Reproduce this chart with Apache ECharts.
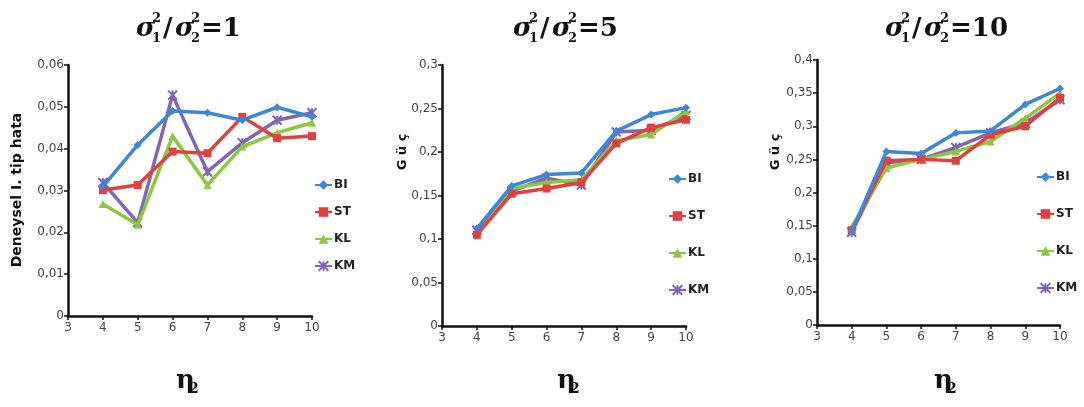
<!DOCTYPE html>
<html><head><meta charset="utf-8">
<script src="https://cdn.jsdelivr.net/npm/echarts@6/dist/echarts.min.js"></script>
<style>html,body{margin:0;padding:0;background:#fff}#c{width:1084px;height:407px}</style>
</head><body><div id="c"></div>
<script>
var n2 = [4, 5, 6, 7, 8, 9, 10];
var methods = ['BI', 'ST', 'KL', 'KM'];
// ratio = 1 : empirical type I error
var r1_BI = [0.0309, 0.0409, 0.0490, 0.0486, 0.0468, 0.0499, 0.0476];
var r1_ST = [0.0301, 0.0313, 0.0393, 0.0389, 0.0476, 0.0425, 0.0430];
var r1_KL = [0.0268, 0.0218, 0.0430, 0.0313, 0.0405, 0.0438, 0.0462];
var r1_KM = [0.0319, 0.0223, 0.0528, 0.0345, 0.0414, 0.0468, 0.0486];
// ratio = 5 : power
var r5_BI = [0.112, 0.161, 0.174, 0.176, 0.224, 0.243, 0.251];
var r5_ST = [0.105, 0.152, 0.158, 0.165, 0.210, 0.228, 0.237];
var r5_KL = [0.104, 0.158, 0.165, 0.168, 0.213, 0.220, 0.247];
var r5_KM = [0.110, 0.155, 0.170, 0.162, 0.223, 0.225, 0.242];
// ratio = 10 : power
var r10_BI = [0.141, 0.262, 0.259, 0.290, 0.293, 0.333, 0.357];
var r10_ST = [0.143, 0.248, 0.250, 0.248, 0.287, 0.300, 0.343];
var r10_KL = [0.148, 0.237, 0.250, 0.262, 0.277, 0.312, 0.350];
var r10_KM = [0.140, 0.245, 0.250, 0.268, 0.290, 0.305, 0.340];
var yTitles = ['Deneysel I. tip hata', 'G ü ç', 'G ü ç'];
var ratios = ['1', '5', '10'];

var colors = {BI:'#3d86d8', ST:'#e0413f', KL:'#8dc63f', KM:'#8266b3'};
var symbols = {BI:'diamond', ST:'rect', KL:'triangle', KM:'path://M0,0 L10,10 M10,0 L0,10 M5,0 L5,10'};
var sets = [[r1_BI, r1_ST, r1_KL, r1_KM],[r5_BI, r5_ST, r5_KL, r5_KM],[r10_BI, r10_ST, r10_KL, r10_KM]];

var grids = [
  {left:68, top:65, width:244, height:251},
  {left:442, top:65, width:244, height:261},
  {left:817, top:60, width:243, height:265}
];
var yMax = [0.06, 0.3, 0.4], yInt = [0.01, 0.05, 0.05];
var fmt = function(v){ return String(+v.toFixed(3)).replace('.', ','); };
var xAxis = [], yAxis = [], series = [], legend = [];
for (var g = 0; g < 3; g++) {
  xAxis.push({type:'value', gridIndex:g, min:3, max:10, interval:1,
    axisLine:{lineStyle:{color:'#111', width:2.5}}, axisTick:{length:4, lineStyle:{color:'#111', width:1.5}},
    axisLabel:{color:'#444', fontSize:12, fontFamily:'DejaVu Sans', margin:6}, splitLine:{show:false}});
  yAxis.push({type:'value', gridIndex:g, min:0, max:yMax[g], interval:yInt[g],
    axisLine:{show:true, lineStyle:{color:'#111', width:2.5}}, axisTick:{show:true, length:4, lineStyle:{color:'#111', width:1.5}},
    axisLabel:{color:'#444', fontSize:12, fontFamily:'DejaVu Sans', margin:4, formatter:fmt}, splitLine:{show:false}});
  methods.forEach(function(m, i){
    series.push({name:m, type:'line', xAxisIndex:g, yAxisIndex:g,
      data:n2.map(function(x, k){ return [x, sets[g][i][k]]; }),
      symbol:symbols[m], symbolSize:m==='KM'?9:8, color:colors[m],
      lineStyle:{width:3.5, color:colors[m]}, itemStyle:{color:colors[m], borderColor:colors[m], borderWidth: m==='KM'?2:0},
      emphasis:{disabled:true}, z:10-i});
  });
}
var legPos = [{left:314, top:179, gap:15}, {left:668, top:173, gap:25}, {left:1036, top:171, gap:25}];
legPos.forEach(function(p){
  legend.push({data:methods, orient:'vertical', left:p.left, top:p.top, itemGap:p.gap, padding:0,
    itemWidth:17, itemHeight:12, textStyle:{fontWeight:'bold', fontSize:12, color:'#222', fontFamily:'DejaVu Sans', padding:[0,0,0,-3]},
    selectedMode:false});
});

var graphic = [];
// y axis titles
graphic.push({type:'text', x:17, y:190, rotation:Math.PI/2, style:{text:yTitles[0], font:'bold 14px "DejaVu Sans"', fill:'#111', align:'center', verticalAlign:'middle'}});
graphic.push({type:'text', x:403, y:152, rotation:Math.PI/2, style:{text:yTitles[1], font:'bold 13px "DejaVu Sans"', fill:'#111', align:'center', verticalAlign:'middle'}});
graphic.push({type:'text', x:776, y:152, rotation:Math.PI/2, style:{text:yTitles[2], font:'bold 13px "DejaVu Sans"', fill:'#111', align:'center', verticalAlign:'middle'}});
// titles
var tLeft = [136, 513, 885];
ratios.forEach(function(r, g){
  var x0 = tLeft[g], y0 = 12;
  var f = 'italic bold 26px "DejaVu Serif"', fs = 'bold 13px "DejaVu Serif"';
  graphic.push({type:'text', x:x0, y:y0+4, style:{text:'σ', font:f, fill:'#111'}});
  graphic.push({type:'text', x:x0+16, y:y0, style:{text:'2', font:fs, fill:'#111'}});
  graphic.push({type:'text', x:x0+16, y:y0+20, style:{text:'1', font:fs, fill:'#111'}});
  graphic.push({type:'text', x:x0+27, y:y0+4, style:{text:'/', font:'bold 26px "DejaVu Serif"', fill:'#111'}});
  graphic.push({type:'text', x:x0+39, y:y0+4, style:{text:'σ', font:f, fill:'#111'}});
  graphic.push({type:'text', x:x0+55, y:y0, style:{text:'2', font:fs, fill:'#111'}});
  graphic.push({type:'text', x:x0+55, y:y0+20, style:{text:'2', font:fs, fill:'#111'}});
  graphic.push({type:'text', x:x0+65, y:y0+4, style:{text:'=' + r, font:'bold 26px "DejaVu Serif"', fill:'#111'}});
});
// x axis names
var nx = [176, 557, 934];
nx.forEach(function(x){
  graphic.push({type:'text', x:x, y:368, style:{text:'η', font:'bold 26px "DejaVu Serif"', fill:'#111'}});
  graphic.push({type:'text', x:x+13, y:382, style:{text:'2', font:'bold 14px "DejaVu Serif"', fill:'#111'}});
});

var chart = echarts.init(document.getElementById('c'), null, {renderer:'canvas'});
chart.setOption({animation:false, backgroundColor:'#fff', grid:grids, xAxis:xAxis, yAxis:yAxis, series:series, legend:legend, graphic:graphic});
</script></body></html>
